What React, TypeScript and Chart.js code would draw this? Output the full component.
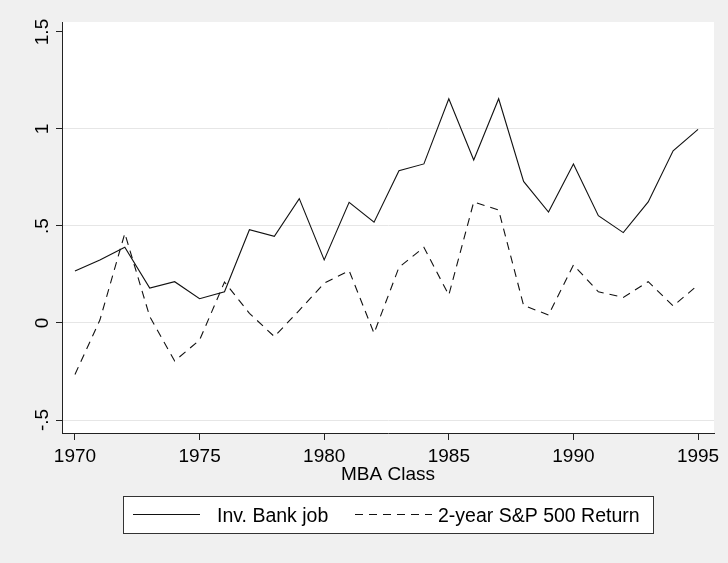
import React, { useEffect, useRef } from 'react';
import { Chart, registerables } from 'chart.js';

Chart.register(...registerables);

const years = [1970, 1971, 1972, 1973, 1974, 1975, 1976, 1977, 1978, 1979, 1980, 1981, 1982, 1983, 1984, 1985, 1986, 1987, 1988, 1989, 1990, 1991, 1992, 1993, 1994, 1995];
const invBankJob = [0.268, 0.325, 0.39, 0.18, 0.213, 0.125, 0.161, 0.481, 0.447, 0.641, 0.325, 0.622, 0.52, 0.785, 0.82, 1.156, 0.84, 1.156, 0.73, 0.572, 0.82, 0.553, 0.466, 0.624, 0.888, 0.998];
const sp500Return = [-0.265, 0.015, 0.462, 0.033, -0.196, -0.088, 0.211, 0.05, -0.07, 0.065, 0.205, 0.27, -0.053, 0.287, 0.39, 0.144, 0.624, 0.582, 0.091, 0.041, 0.299, 0.161, 0.132, 0.213, 0.088, 0.196];
const seriesLabels = ['Inv. Bank job', '2-year S&P 500 Return'];
const xTicks = [1970, 1975, 1980, 1985, 1990, 1995];
const yTicks = [-0.5, 0, 0.5, 1, 1.5];
const yTickLabels = ['-.5', '0', '.5', '1', '1.5'];
const xTitle = 'MBA Class';

const FONT = '"Liberation Sans", Arial, sans-serif';
const DASH = [8, 6];

const decor = {
  id: 'decor',
  beforeDraw(chart: any) {
    const { ctx, chartArea: a, width, height } = chart;
    ctx.save();
    ctx.fillStyle = '#f0f0f0';
    ctx.fillRect(0, 0, width, height);
    ctx.fillStyle = '#ffffff';
    ctx.fillRect(a.left, a.top, a.right - a.left, a.bottom - a.top);
    ctx.restore();
  },
  afterDraw(chart: any) {
    const { ctx, chartArea: a } = chart;
    const ys = chart.scales.y;
    ctx.save();
    ctx.fillStyle = '#000';
    ctx.font = `19px ${FONT}`;
    ctx.textAlign = 'center';
    ctx.textBaseline = 'alphabetic';
    yTicks.forEach((v, i) => {
      const py = ys.getPixelForValue(v);
      ctx.save();
      ctx.translate(a.left - 14, py);
      ctx.rotate(-Math.PI / 2);
      ctx.fillText(yTickLabels[i], 0, 0);
      ctx.restore();
    });
    const cx = (a.left + a.right) / 2;
    ctx.fillText(xTitle, cx, a.bottom + 47);

    // legend box
    const lw = 530;
    const lh = 37;
    const lx = Math.round(cx - lw / 2);
    const ly = Math.round(a.bottom + 63);
    ctx.fillStyle = '#ffffff';
    ctx.fillRect(lx, ly, lw, lh);
    ctx.strokeStyle = '#333';
    ctx.lineWidth = 1;
    ctx.strokeRect(lx + 0.5, ly + 0.5, lw, lh);
    const my = ly + 18.5;
    const ds = chart.data.datasets;
    ctx.strokeStyle = ds[0].borderColor;
    ctx.lineWidth = 1;
    ctx.setLineDash([]);
    ctx.beginPath();
    ctx.moveTo(lx + 10, my);
    ctx.lineTo(lx + 77, my);
    ctx.stroke();
    ctx.strokeStyle = ds[1].borderColor;
    ctx.setLineDash(DASH);
    ctx.beginPath();
    ctx.moveTo(lx + 232, my);
    ctx.lineTo(lx + 309, my);
    ctx.stroke();
    ctx.setLineDash([]);
    ctx.fillStyle = '#000';
    ctx.font = `19.5px ${FONT}`;
    ctx.textAlign = 'left';
    ctx.textBaseline = 'alphabetic';
    ctx.fillText(ds[0].label, lx + 94, ly + 26);
    ctx.fillText(ds[1].label, lx + 315, ly + 26);
    ctx.restore();
  },
};

export default function App() {
  const ref = useRef<HTMLCanvasElement | null>(null);
  useEffect(() => {
    if (!ref.current) return;
    const chart = new Chart(ref.current, {
      type: 'line',
      data: {
        datasets: [
          {
            label: seriesLabels[0],
            data: years.map((x, i) => ({ x, y: invBankJob[i] })),
            borderColor: '#111',
            borderWidth: 1.1,
            pointRadius: 0,
            tension: 0,
            fill: false,
          },
          {
            label: seriesLabels[1],
            data: years.map((x, i) => ({ x, y: sp500Return[i] })),
            borderColor: '#111',
            borderWidth: 1.1,
            borderDash: DASH,
            pointRadius: 0,
            tension: 0,
            fill: false,
          },
        ],
      },
      options: {
        responsive: false,
        animation: false,
        devicePixelRatio: 1,
        layout: { padding: { left: 0, top: 22, right: 14, bottom: 0 } },
        plugins: { legend: { display: false }, tooltip: { enabled: false } },
        scales: {
          x: {
            type: 'linear',
            min: 1969.48,
            max: 1995.64,
            afterBuildTicks: (s: any) => {
              s.ticks = xTicks.map((v) => ({ value: v }));
            },
            afterFit: (s: any) => {
              s.height = 130;
            },
            ticks: {
              color: '#000',
              font: { family: FONT, size: 19 },
              padding: 5,
              maxRotation: 0,
              minRotation: 0,
              autoSkip: false,
              callback: (v: any) => String(v),
            },
            grid: { drawOnChartArea: false, drawTicks: true, tickLength: 7, tickColor: '#222', lineWidth: 1 },
            border: { display: true, color: '#222', width: 1 },
          },
          y: {
            type: 'linear',
            min: -0.567,
            max: 1.5515,
            afterBuildTicks: (s: any) => {
              s.ticks = yTicks.map((v) => ({ value: v }));
            },
            afterFit: (s: any) => {
              s.width = 62;
            },
            ticks: { display: false },
            grid: {
              drawOnChartArea: true,
              drawTicks: true,
              tickLength: 6,
              tickColor: '#222',
              color: (c: any) => (c.tick && c.tick.value === 1.5 ? 'rgba(0,0,0,0)' : '#e6e6e6'),
              lineWidth: 1,
            },
            border: { display: true, color: '#222', width: 1 },
          },
        },
      },
      plugins: [decor],
    });
    return () => chart.destroy();
  }, []);
  return (
    <div style={{ position: 'fixed', left: 0, top: 0, width: 728, height: 563 }}>
      <canvas ref={ref} width={728} height={563} />
    </div>
  );
}
